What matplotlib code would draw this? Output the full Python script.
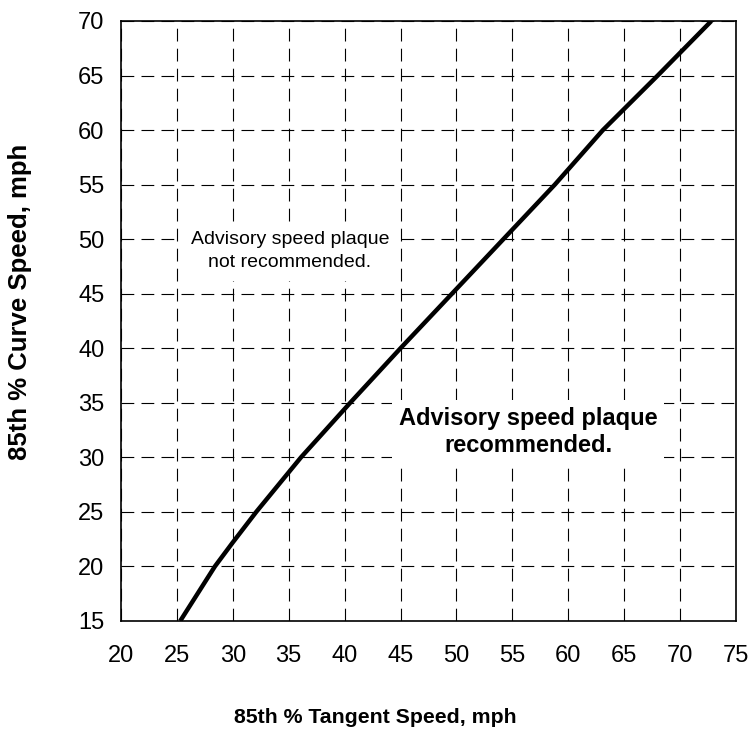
import matplotlib
matplotlib.use("Agg")
import matplotlib.pyplot as plt

# curve (tangent speed vs curve speed, mph)
tangent_speed = [25.3, 28.4, 30.0, 32.1, 36.1, 40.5, 45.0, 49.6, 54.2, 58.8, 63.1, 68.0, 72.8]
curve_speed = [15, 20, 22.2, 25, 30, 35, 40, 45, 50, 55, 60, 65, 70]

x_ticks = list(range(20, 80, 5))
y_ticks = list(range(15, 75, 5))

plt.rcParams['font.family'] = ['Liberation Sans', 'DejaVu Sans']

fig = plt.figure(figsize=(7.49, 7.34), dpi=100)
ax = fig.add_axes([0.1615, 0.154, 0.8211, 0.8174])

ax.plot(tangent_speed, curve_speed, color='black', linewidth=3.2,
        solid_capstyle='butt', solid_joinstyle='round')

ax.set_xlim(20, 75)
ax.set_ylim(15, 70)
ax.set_xticks(x_ticks)
ax.set_yticks(y_ticks)
ax.tick_params(length=0, labelsize=17)
ax.tick_params(axis='x', pad=17)
ax.tick_params(axis='y', pad=12)
ax.grid(True, color='black', linestyle=(0, (11.5, 6.5)), linewidth=0.8)
for s in ax.spines.values():
    s.set_color('black')
    s.set_linewidth(1.2)

ax.text(35.1, 48.9, 'Advisory speed plaque\nnot recommended.', ha='center', va='center',
        fontsize=14, linespacing=1.45,
        bbox=dict(facecolor='white', edgecolor='none', pad=7))
ax.text(56.4, 32.3, 'Advisory speed plaque\nrecommended.', ha='center', va='center',
        fontsize=17, fontweight='bold', linespacing=1.25,
        bbox=dict(facecolor='white', edgecolor='none', pad=5))

ax.set_xlabel('85th % Tangent Speed, mph', fontsize=15.3, fontweight='bold')
ax.set_ylabel('85th % Curve Speed, mph', fontsize=18.5, fontweight='bold')
ax.xaxis.set_label_coords(0.413, -0.145)
ax.yaxis.set_label_coords(-0.145, 0.532)

fig.savefig('out.png', dpi=100)
